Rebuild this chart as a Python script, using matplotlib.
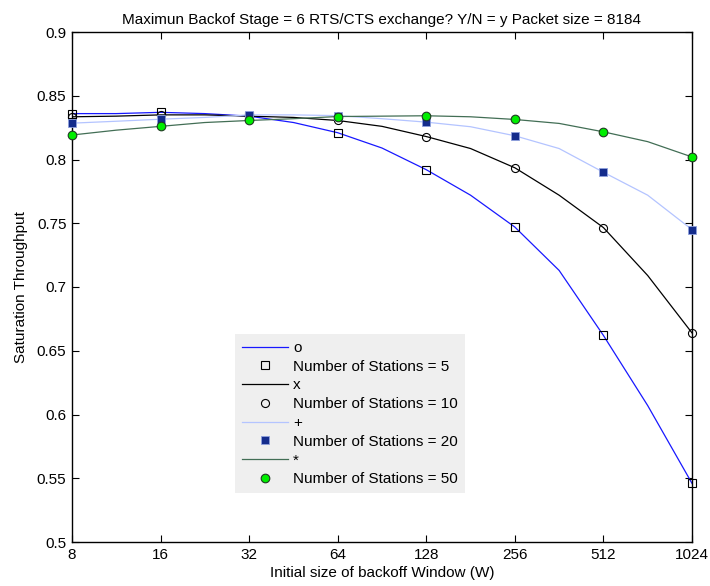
import matplotlib
matplotlib.use("Agg")
import matplotlib.pyplot as plt

plt.rcParams["font.family"] = ["Liberation Sans", "DejaVu Sans"]
plt.rcParams["font.size"] = 11

# window sizes where the model curve was evaluated (half-octave steps)
w_curve = [8, 11.3, 16, 22.6, 32, 45.3, 64, 90.5, 128, 181, 256, 362, 512, 724, 1024]
# window sizes with markers
w_marks = [8, 16, 32, 64, 128, 256, 512, 1024]

curve_n5 = [0.836, 0.836, 0.837, 0.836, 0.834, 0.829, 0.821, 0.809, 0.792,
            0.772, 0.747, 0.713, 0.662, 0.607, 0.546]
curve_n10 = [0.8335, 0.834, 0.835, 0.835, 0.834, 0.833, 0.8306, 0.826, 0.818,
             0.8086, 0.7935, 0.772, 0.7466, 0.709, 0.664]
curve_n20 = [0.8285, 0.830, 0.8316, 0.833, 0.835, 0.835, 0.8344, 0.832, 0.8293,
             0.8257, 0.8186, 0.8086, 0.790, 0.772, 0.745]
curve_n50 = [0.8192, 0.823, 0.826, 0.829, 0.8306, 0.832, 0.8337, 0.834, 0.8343,
             0.8335, 0.8314, 0.8283, 0.8217, 0.814, 0.802]

marks_n5 = [0.836, 0.837, 0.834, 0.821, 0.792, 0.747, 0.662, 0.546]
marks_n10 = [0.8335, 0.835, 0.834, 0.8306, 0.818, 0.7935, 0.7466, 0.664]
marks_n20 = [0.8285, 0.8316, 0.835, 0.8344, 0.8293, 0.8186, 0.790, 0.745]
marks_n50 = [0.8192, 0.826, 0.8306, 0.8337, 0.8343, 0.8314, 0.8217, 0.802]

line_labels = ["o", "x", "+", "*"]
mark_labels = ["Number of Stations = 5", "Number of Stations = 10",
               "Number of Stations = 20", "Number of Stations = 50"]

fig = plt.figure(figsize=(7.1, 5.86), dpi=100)
ax = fig.add_axes([72 / 710, 1 - 542 / 586, 620 / 710, 510 / 586])

line_styles = [
    dict(color="#1818ff"),
    dict(color="black"),
    dict(color="#b4c4ff"),
    dict(color="#426e55"),
]
mark_styles = [
    dict(marker="s", mfc="none", mec="black", ms=6, mew=0.8),
    dict(marker="o", mfc="none", mec="black", ms=5.8, mew=0.8),
    dict(marker="s", mfc="#142c8c", mec="#8ea0dd", ms=6, mew=0.6),
    dict(marker="o", mfc="#00ee00", mec="#1f3a22", ms=6.2, mew=0.8),
]

curves = [curve_n5, curve_n10, curve_n20, curve_n50]
marks = [marks_n5, marks_n10, marks_n20, marks_n50]

handles = []
for curve, mk, ls, ms, ll, ml in zip(curves, marks, line_styles, mark_styles,
                                     line_labels, mark_labels):
    h1, = ax.plot(w_curve, curve, lw=0.9, label=ll, **ls)
    h2, = ax.plot(w_marks, mk, ls="none", label=ml, clip_on=False, zorder=3, **ms)
    handles += [h1, h2]

ax.set_xscale("log", base=2)
ax.set_xlim(8, 1024)
ax.set_ylim(0.5, 0.9)
ax.set_xticks(w_marks)
ax.set_xticklabels([str(w) for w in w_marks])
ax.minorticks_off()
ax.set_yticks([0.5, 0.55, 0.6, 0.65, 0.7, 0.75, 0.8, 0.85, 0.9])
ax.set_yticklabels(["0.5", "0.55", "0.6", "0.65", "0.7", "0.75", "0.8", "0.85", "0.9"])
ax.tick_params(direction="in", top=True, right=True, length=5, width=0.8, pad=4)
for s in ax.spines.values():
    s.set_linewidth(1.0)

ax.set_xlabel("Initial size of backoff Window (W)", labelpad=3)
ax.set_ylabel("Saturation Throughput", labelpad=6)
ax.set_title("Maximun Backof Stage = 6 RTS/CTS exchange? Y/N = y Packet size = 8184",
             fontsize=11, pad=6)

leg = ax.legend(handles=handles, loc="lower left", bbox_to_anchor=(0.263, 0.096),
                frameon=True, fancybox=False, facecolor="#efefef", edgecolor="none",
                framealpha=1, handlelength=3.0, handletextpad=0.35,
                labelspacing=0.31, borderpad=0.45, borderaxespad=0, fontsize=11)

fig.savefig("out.png", dpi=100)
plt.close(fig)
